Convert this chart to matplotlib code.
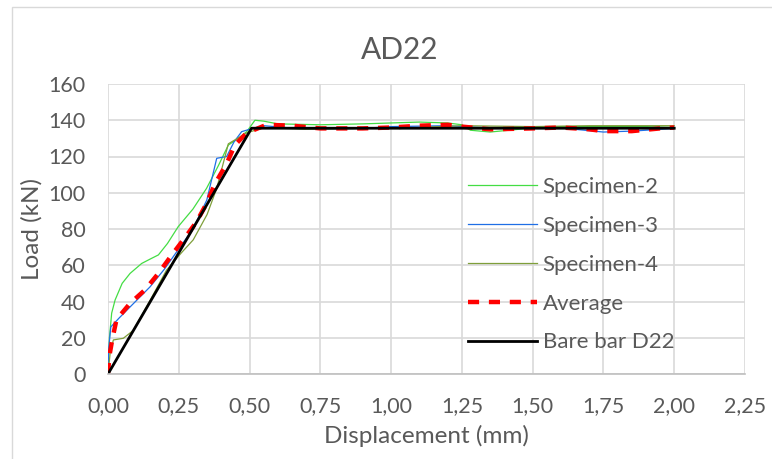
import matplotlib
matplotlib.use("Agg")
import matplotlib.pyplot as plt
from matplotlib.patches import Rectangle

plt.rcParams['font.family'] = ['Lato', 'DejaVu Sans']

# Data (displacement mm, load kN)
x_s2 = [0.0, 0.005, 0.013, 0.025, 0.05, 0.078, 0.119, 0.15, 0.178, 0.21, 0.248, 0.3, 0.348, 0.39, 0.425, 0.46, 0.49, 0.519,
        0.55, 0.6, 0.75, 0.9, 1.0, 1.1, 1.2, 1.25, 1.28, 1.35, 1.45, 1.5, 1.6, 1.75, 1.9, 2.0]
y_s2 = [0.0, 20.0, 33.6, 40.8, 50.0, 55.5, 61.0, 63.5, 65.7, 72.0, 81.3, 91.0, 102.4, 115.0, 126.3, 130.0, 133.7, 140.0,
        139.5, 138.0, 137.5, 138.0, 138.5, 139.0, 138.5, 137.5, 134.5, 133.5, 135.0, 136.0, 136.5, 136.5, 136.5, 136.0]

x_s3 = [0.0, 0.003, 0.01, 0.04, 0.078, 0.148, 0.2, 0.243, 0.3, 0.349, 0.384, 0.419, 0.445, 0.472, 0.5,
        0.55, 0.7, 0.9, 1.0, 1.2, 1.25, 1.4, 1.55, 1.65, 1.75, 1.85, 2.0]
y_s3 = [0.0, 15.0, 26.0, 31.0, 37.0, 48.0, 58.0, 67.5, 80.0, 96.0, 119.0, 120.0, 128.0, 133.7, 135.0,
        137.0, 135.0, 135.5, 136.5, 137.0, 136.5, 135.5, 136.5, 135.0, 133.5, 134.0, 135.5]

x_s4 = [0.0, 0.008, 0.019, 0.054, 0.089, 0.15, 0.207, 0.26, 0.301, 0.35, 0.384, 0.425, 0.49, 0.55,
        0.7, 0.9, 1.1, 1.25, 1.5, 1.7, 2.0]
y_s4 = [0.0, 12.0, 18.8, 19.7, 24.0, 41.0, 57.4, 67.0, 74.0, 88.0, 102.4, 127.0, 133.0, 136.0,
        135.0, 135.5, 136.0, 137.0, 136.5, 137.0, 137.0]

x_avg = [0.0, 0.005, 0.015, 0.03, 0.078, 0.13, 0.178, 0.225, 0.266, 0.313, 0.348, 0.378, 0.419, 0.448, 0.49, 0.56,
         0.65, 0.75, 0.9, 1.0, 1.1, 1.2, 1.25, 1.35, 1.5, 1.6, 1.7, 1.75, 1.85, 1.95, 2.0]
y_avg = [0.0, 10.0, 19.0, 30.0, 39.0, 46.3, 55.5, 65.6, 74.0, 84.0, 94.0, 105.0, 116.0, 126.3, 133.0, 137.5,
         137.0, 135.5, 135.5, 136.0, 137.0, 137.5, 136.5, 135.0, 135.5, 136.0, 135.0, 134.0, 134.0, 135.5, 136.0]

x_bare = [0.0, 0.507, 2.0]
y_bare = [0.0, 135.6, 135.6]

x_ticks = [0.0, 0.25, 0.5, 0.75, 1.0, 1.25, 1.5, 1.75, 2.0, 2.25]
x_ticklabels = ["0,00", "0,25", "0,50", "0,75", "1,00", "1,25", "1,50", "1,75", "2,00", "2,25"]
y_ticks = [0, 20, 40, 60, 80, 100, 120, 140, 160]

fig = plt.figure(figsize=(7.72, 4.59), dpi=100)
fig.patches.append(Rectangle((12/772, -0.01), 1.0, 1.0 - 7/459 + 0.01, transform=fig.transFigure,
                             fill=False, edgecolor='#d9d9d9', linewidth=1.0))
ax = fig.add_axes([108/772, (459-374)/459, (745-108)/772, 290/459])

txt = '#595959'
ax.plot(x_s2, y_s2, color='#44dd44', lw=0.9, label='Specimen-2')
ax.plot(x_s3, y_s3, color='#1f6fe6', lw=0.9, label='Specimen-3')
ax.plot(x_s4, y_s4, color='#7f9f3a', lw=0.9, label='Specimen-4')
ax.plot(x_avg, y_avg, color='#ff0000', lw=3.2, ls=(0, (2.5, 2.2)), label='Average')
ax.plot(x_bare, y_bare, color='#000000', lw=2.0, label='Bare bar D22')

ax.set_xlim(0, 2.25)
ax.set_ylim(0, 160)
ax.set_xticks(x_ticks)
ax.set_xticklabels(x_ticklabels)
ax.set_yticks(y_ticks)
ax.grid(True, color='#d9d9d9', lw=1.2)
ax.set_axisbelow(True)
for s in ['top', 'right', 'left']:
    ax.spines[s].set_visible(False)
ax.spines['bottom'].set_color('#bfbfbf')
ax.spines['bottom'].set_linewidth(1.2)
ax.tick_params(axis='x', length=0, labelsize=15.5, colors=txt, pad=16)
ax.tick_params(axis='y', length=0, labelsize=15.5, colors=txt, pad=16)
ax.set_xlabel('Displacement (mm)', fontsize=17.5, color=txt, labelpad=6)
ax.set_ylabel('Load (kN)', fontsize=17.5, color=txt, labelpad=4)
fig.text(400/772, 1 - 50/459, 'AD22', fontsize=21.5, color=txt, ha='center', va='center')

leg = ax.legend(loc='upper left', bbox_to_anchor=((459-108)/637, (374-168)/290), frameon=False,
                fontsize=16, labelcolor=txt, handlelength=3.1, labelspacing=0.85, handletextpad=0.27,
                borderaxespad=0)

fig.savefig('out.png', dpi=100)
